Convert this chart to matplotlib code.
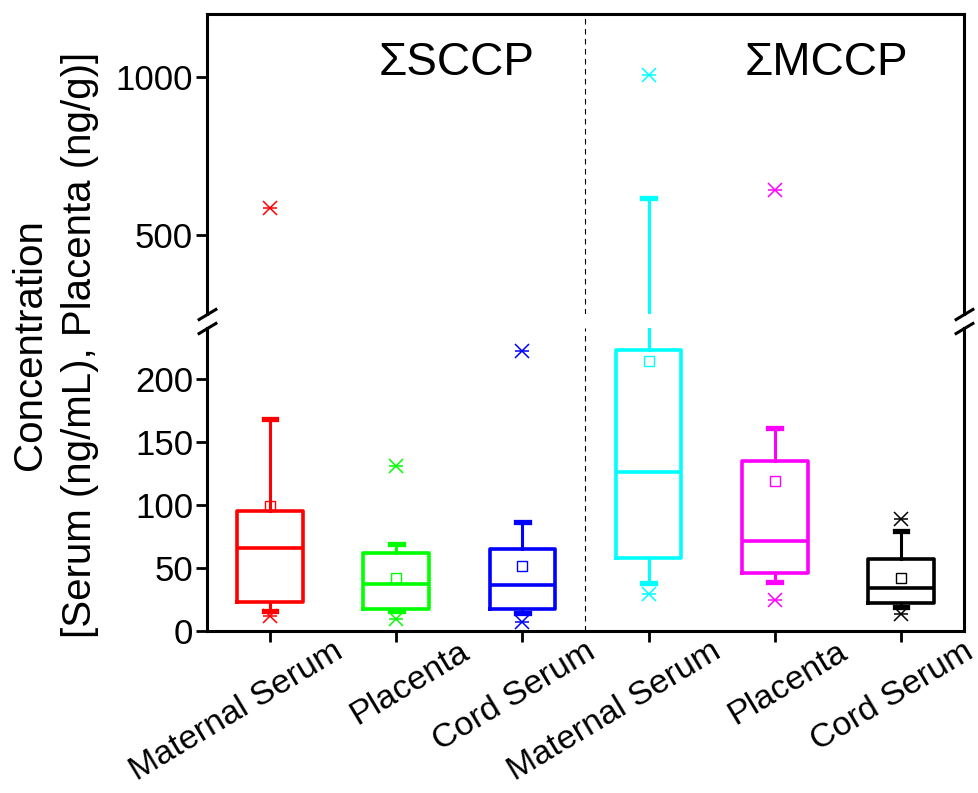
import numpy as np
import matplotlib
matplotlib.use("Agg")
import matplotlib.pyplot as plt
from matplotlib.transforms import ScaledTranslation

plt.rcParams['font.family'] = ['Liberation Sans', 'DejaVu Sans']

# --- DATA ---
categories = ["Maternal Serum", "Placenta", "Cord Serum",
              "Maternal Serum", "Placenta", "Cord Serum"]
group_names = ["\u03a3SCCP", "\u03a3MCCP"]
colors = ["#ff0000", "#00ff00", "#0000ff", "#00ffff", "#ff00ff", "#000000"]

whisker_low = [16, 16, 14, 38, 39, 18.5]
q1 = [23, 17, 17, 58, 46, 22]
median = [66, 37, 36.5, 126, 71, 34]
q3 = [95, 62, 65, 223, 135, 57]
whisker_high = [168, 69, 86, 619, 161, 79]
mean = [99, 42, 51, 214, 119, 42]
extreme_low = [12, 9, 7, 29, 24, 13]
extreme_high = [585, 131, 222, 1007, 643, 89]

low_ticks = [0, 50, 100, 150, 200]
high_ticks = [500, 1000]
low_range = (0, 240)
high_range = (250, 1200)

# --- FIGURE ---
fig = plt.figure(figsize=(9.79, 7.93), dpi=100)
ax_up = fig.add_axes([0.2114, 0.6039, 0.7733, 0.3784])
ax_low = fig.add_axes([0.2114, 0.2047, 0.7733, 0.3813])

positions = np.arange(1, len(categories) + 1)
extremes = np.array([extreme_low, extreme_high])

for ax, (lo, hi) in ((ax_up, high_range), (ax_low, low_range)):
    for i, c in enumerate(colors):
        stats = [dict(whislo=whisker_low[i], q1=q1[i], med=median[i], q3=q3[i],
                      whishi=whisker_high[i], mean=mean[i], fliers=[])]
        ax.bxp(stats, positions=[positions[i]], widths=0.52, capwidths=0.1,
               showmeans=True, showfliers=False, manage_ticks=False,
               boxprops=dict(color=c, lw=2.6),
               whiskerprops=dict(color=c, lw=2.2),
               capprops=dict(color=c, lw=3.8),
               medianprops=dict(color=c, lw=2.6),
               meanprops=dict(marker='s', mfc='none', mec=c, ms=7.5, mew=1))
        # only draw the min/max markers in the segment that holds them
        pts = extremes[:, i]
        pts = pts[(pts >= lo) & (pts <= hi)]
        ax.plot([positions[i]] * len(pts), pts, ls='none',
                marker='x', ms=10, mew=1.1, color=c)
        ax.plot([positions[i]] * len(pts), pts, ls='none',
                marker='_', ms=10, mew=1.1, color=c)
    ax.axvline(3.5, color='k', lw=0.8, ls=(0, (5, 4)))
    ax.set_xlim(0.5, 6.5)
    ax.set_ylim(lo, hi)
    for s in ax.spines.values():
        s.set_linewidth(2.2)
    ax.tick_params(axis='y', direction='out', length=8, width=2, labelsize=25, pad=2)

ax_low.set_yticks(low_ticks)
ax_up.set_yticks(high_ticks)

ax_low.spines['top'].set_visible(False)
ax_up.spines['bottom'].set_visible(False)
ax_up.tick_params(axis='x', bottom=False, labelbottom=False)

ax_low.set_xticks(positions)
ax_low.set_xticklabels(categories, rotation=31, ha='right', va='top',
                       rotation_mode='anchor', fontsize=24.5)
ax_low.tick_params(axis='x', direction='out', length=8, width=2, pad=0)
shift = ScaledTranslation(0.62, 0.06, fig.dpi_scale_trans)
for lab in ax_low.get_xticklabels():
    lab.set_transform(lab.get_transform() + shift)

# break marks
brk = dict(marker=[(-1, -0.6), (1, 0.6)], markersize=14, ls='none',
           color='k', mec='k', mew=2.2, clip_on=False)
ax_low.plot([0, 1], [1, 1], transform=ax_low.transAxes, **brk)
ax_up.plot([0, 1], [0, 0], transform=ax_up.transAxes, **brk)

# group titles
ax_up.text(0.433, 0.797, group_names[0], transform=ax_up.transAxes,
           ha='right', va='baseline', fontsize=33)
ax_up.text(0.926, 0.797, group_names[1], transform=ax_up.transAxes,
           ha='right', va='baseline', fontsize=33)

fig.text(0.056, 0.565, "Concentration\n[Serum (ng/mL), Placenta (ng/g)]",
         rotation=90, ha='center', va='center', fontsize=29,
         linespacing=1.38, multialignment='center')

fig.savefig("out.png", dpi=100)
